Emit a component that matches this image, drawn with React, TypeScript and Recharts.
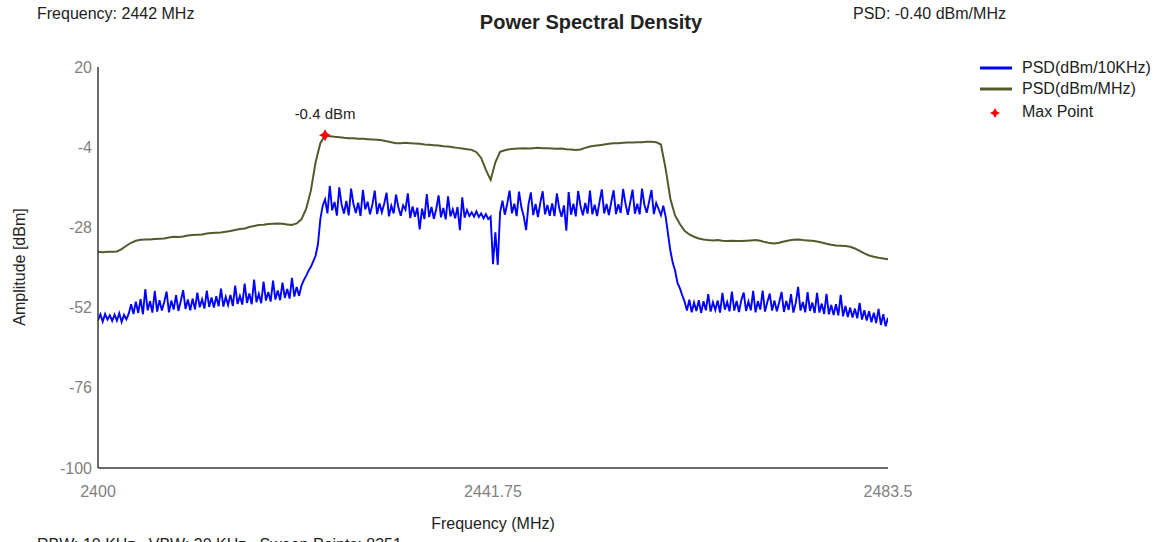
import { ComposedChart, Line, Scatter, XAxis, YAxis } from "recharts";

// sweep grid
const startFreq = 2400;
const blueStep = 0.25;
const greenStep = 0.5;

const xTicks = [2400, 2441.75, 2483.5];
const yTicks = [20, -4, -28, -52, -76, -100];

// PSD(dBm/10KHz), one value per 0.25 MHz, 2400 .. 2483.5
const bluePsd = [
  -55.8, -54.0, -56.2, -53.9, -55.6, -54.3, -56.0, -54.1,
  -55.9, -53.7, -56.3, -54.2, -55.5, -53.8, -51.0, -53.9,
  -50.2, -53.6, -49.5, -54.0, -46.5, -52.8, -50.1, -53.5,
  -47.0, -53.2, -49.8, -52.9, -50.3, -47.2, -53.4, -49.9,
  -52.6, -48.3, -53.0, -50.0, -46.8, -52.4, -49.6, -52.8,
  -49.3, -52.5, -47.5, -51.9, -49.5, -52.3, -46.9, -51.8,
  -49.0, -52.0, -48.6, -51.6, -46.3, -51.7, -48.8, -51.2,
  -48.2, -51.5, -45.4, -50.9, -48.5, -51.1, -44.8, -50.6,
  -47.8, -51.0, -43.6, -50.4, -47.9, -50.7, -44.2, -49.9,
  -47.3, -50.2, -43.9, -49.6, -46.9, -49.8, -44.5, -49.1,
  -46.4, -49.3, -43.1, -48.7, -45.8, -48.5, -45.5, -43.8,
  -42.5, -41.0, -39.8, -38.2, -36.5, -33.0, -25.5, -21.5,
  -19.6, -23.8, -15.6, -22.9, -20.4, -24.5, -16.0, -21.2,
  -23.9, -20.1, -24.4, -16.4, -21.0, -23.7, -20.6, -24.6,
  -16.8, -22.6, -20.3, -24.1, -21.2, -17.0, -24.0, -20.8,
  -23.5, -20.9, -17.6, -24.7, -21.5, -23.8, -18.2, -22.0,
  -24.5, -21.4, -22.7, -17.8, -25.2, -21.7, -24.8, -22.1,
  -28.6, -22.4, -25.5, -18.0, -24.9, -21.9, -25.4, -22.5,
  -18.4, -25.0, -22.2, -25.6, -18.7, -24.7, -22.6, -25.3,
  -21.9, -28.8, -19.0, -25.1, -22.8, -24.6, -23.5, -24.8,
  -23.2, -24.9, -23.8, -25.3, -24.0, -25.5, -24.8, -39.0,
  -29.5, -39.2, -23.5, -20.0, -24.2, -21.0, -17.0, -23.8,
  -20.9, -24.6, -17.3, -22.0, -24.7, -28.8, -21.1, -17.5,
  -24.3, -21.0, -24.9, -20.6, -17.2, -24.1, -21.3, -24.5,
  -20.8, -24.6, -17.8, -22.3, -24.8, -21.4, -29.0, -17.4,
  -24.2, -20.9, -24.7, -17.1, -21.6, -24.4, -20.7, -23.9,
  -17.0, -24.1, -21.2, -24.6, -20.5, -16.6, -23.8, -21.0,
  -24.3, -20.4, -16.9, -24.0, -21.1, -23.7, -16.5, -20.8,
  -24.2, -20.6, -16.7, -23.9, -20.9, -24.1, -16.4, -21.2,
  -23.6, -20.3, -16.8, -24.0, -20.7, -22.5, -24.4, -21.5,
  -24.8, -30.0, -35.0, -38.6, -41.0, -44.6, -46.2, -48.3,
  -50.2, -52.9, -49.6, -53.4, -50.5, -53.0, -49.8, -53.6,
  -50.1, -52.8, -48.0, -53.2, -50.4, -52.7, -49.9, -53.5,
  -47.6, -52.6, -50.3, -53.1, -47.2, -52.9, -50.0, -53.3,
  -49.7, -47.5, -53.0, -50.2, -52.8, -47.0, -53.4, -50.1,
  -52.6, -46.9, -53.2, -50.3, -47.8, -52.9, -49.9, -53.1,
  -50.4, -47.3, -53.3, -50.0, -52.7, -48.0, -53.5, -50.6,
  -45.8, -52.9, -50.3, -53.4, -47.4, -53.0, -50.5, -53.6,
  -47.6, -53.5, -50.8, -53.9, -47.9, -54.0, -51.2, -54.2,
  -51.0, -54.3, -48.2, -54.6, -51.5, -54.8, -52.0, -55.0,
  -52.3, -55.2, -50.6, -55.6, -52.8, -55.9, -53.1, -56.4,
  -53.5, -56.6, -52.4, -57.2, -54.0, -57.6, -55.0,
];

// PSD(dBm/MHz), one value per 0.5 MHz, 2400 .. 2483.5
const greenPsd = [
  -35.3, -35.4, -35.3, -35.3, -35.2, -34.5, -33.5, -32.6, -32.0, -31.7,
  -31.6, -31.6, -31.5, -31.4, -31.3, -31.0, -30.8, -30.9, -30.7, -30.4,
  -30.3, -30.2, -30.1, -29.8, -29.7, -29.6, -29.5, -29.3, -29.1, -28.8,
  -28.5, -28.3, -27.9, -27.6, -27.3, -27.2, -27.0, -26.9, -26.8, -26.9,
  -27.1, -27.3, -26.8, -25.6, -22.5, -17.0, -8.5, -2.8, -0.4, -0.7,
  -0.9, -1.0, -1.2, -1.3, -1.3, -1.5, -1.5, -1.6, -1.7, -1.8,
  -1.9, -2.2, -2.5, -2.8, -2.8, -2.7, -2.8, -2.9, -3.0, -3.2,
  -3.3, -3.4, -3.5, -3.7, -3.8, -4.0, -4.2, -4.4, -4.6, -4.8,
  -5.5, -7.2, -10.8, -13.8, -8.5, -5.4, -4.9, -4.6, -4.5, -4.4,
  -4.3, -4.4, -4.3, -4.2, -4.3, -4.3, -4.4, -4.5, -4.4, -4.6,
  -4.7, -4.8, -4.7, -4.2, -3.8, -3.6, -3.4, -3.2, -3.0, -2.8,
  -2.8, -2.7, -2.6, -2.6, -2.5, -2.5, -2.4, -2.4, -2.5, -3.2,
  -10.5, -19.5, -24.5, -27.0, -29.0, -30.1, -30.8, -31.3, -31.6, -31.8,
  -31.9, -31.8, -32.0, -32.1, -32.0, -32.1, -32.1, -32.0, -31.9, -31.8,
  -32.0, -32.4, -32.7, -32.8, -32.6, -32.2, -31.9, -31.7, -31.6, -31.8,
  -31.9, -32.0, -32.2, -32.5, -32.9, -33.2, -33.4, -33.5, -33.6, -33.8,
  -34.3, -35.0, -35.8, -36.4, -36.8, -37.1, -37.3, -37.5,
];

const maxFreq = 2424;
const maxPsd = -0.4;

const blueData = bluePsd.map((v, i) => ({ f: startFreq + i * blueStep, v }));
const greenData = greenPsd.map((v, i) => ({ f: startFreq + i * greenStep, v }));
const maxData = [{ f: maxFreq, v: maxPsd }];

const FONT = "'Liberation Sans', Arial, sans-serif";
const BLUE = "#0000ff";
const GREEN = "#505a2c";
const RED = "#ff0000";
const AXIS = "#3a3a3a";
const TICK = "#808080";

const starPath = (cx: number, cy: number, r: number) => {
  const s = r * 0.35;
  return `M${cx},${cy - r} L${cx + s},${cy - s} L${cx + r},${cy} L${cx + s},${cy + s} L${cx},${cy + r} L${cx - s},${cy + s} L${cx - r},${cy} L${cx - s},${cy - s} Z`;
};

const MaxMarker = (props: any) => {
  const { cx, cy } = props;
  return (
    <g>
      <path d={starPath(cx, cy, 6)} fill={RED} />
      <text x={cx} y={cy - 16} textAnchor="middle" fontSize={15} fill="#222" fontFamily={FONT}>
        {`${maxPsd} dBm`}
      </text>
    </g>
  );
};

const textStyle: React.CSSProperties = {
  position: "absolute",
  fontFamily: FONT,
  fontSize: 16,
  lineHeight: "18px",
  color: "#222",
  whiteSpace: "pre",
};

export default function App() {
  return (
    <div
      style={{
        position: "absolute",
        left: 0,
        top: 0,
        width: 1169,
        height: 542,
        overflow: "hidden",
        background: "#fff",
        fontFamily: FONT,
      }}
    >
      <ComposedChart
        width={1169}
        height={542}
        margin={{ top: 67, right: 281, bottom: 24, left: 8 }}
        style={{ fontFamily: FONT }}
      >
        <XAxis
          type="number"
          dataKey="f"
          domain={[2400, 2483.5]}
          ticks={xTicks}
          interval={0}
          height={50}
          tickLine={false}
          tickSize={6}
          tickMargin={12}
          axisLine={{ stroke: AXIS, strokeWidth: 1.5 }}
          tick={{ fill: TICK, fontSize: 16 }}
          allowDataOverflow
        />
        <YAxis
          type="number"
          domain={[-100, 20]}
          ticks={yTicks}
          interval={0}
          width={90}
          tickLine={false}
          tickSize={3}
          tickMargin={3}
          axisLine={{ stroke: AXIS, strokeWidth: 1.5 }}
          tick={{ fill: TICK, fontSize: 16 }}
          allowDataOverflow
        />
        <Line
          data={greenData}
          dataKey="v"
          type="linear"
          stroke={GREEN}
          strokeWidth={2}
          dot={false}
          isAnimationActive={false}
        />
        <Line
          data={blueData}
          dataKey="v"
          type="linear"
          stroke={BLUE}
          strokeWidth={1.9}
          dot={false}
          isAnimationActive={false}
        />
        <Scatter data={maxData} dataKey="v" shape={MaxMarker} isAnimationActive={false} />
      </ComposedChart>

      <div style={{ ...textStyle, left: 37, top: 5 }}>Frequency: 2442 MHz</div>
      <div
        style={{
          ...textStyle,
          left: 591,
          top: 11,
          transform: "translateX(-50%)",
          fontSize: 20,
          lineHeight: "22px",
          fontWeight: "bold",
        }}
      >
        Power Spectral Density
      </div>
      <div style={{ ...textStyle, left: 853, top: 5 }}>PSD: -0.40 dBm/MHz</div>

      <div
        style={{
          ...textStyle,
          left: 20,
          top: 267,
          transform: "translate(-50%, -50%) rotate(-90deg)",
        }}
      >
        Amplitude [dBm]
      </div>
      <div style={{ ...textStyle, left: 493, top: 515, transform: "translateX(-50%)" }}>
        Frequency (MHz)
      </div>
      <div style={{ ...textStyle, left: 37, top: 536 }}>
        {"RBW: 10 KHz   VBW: 30 KHz   Sweep Points: 8351"}
      </div>

      {/* legend */}
      <svg style={{ position: "absolute", left: 970, top: 55 }} width={50} height={70}>
        <line x1={10} x2={42} y1={13} y2={13} stroke={BLUE} strokeWidth={3} />
        <line x1={10} x2={42} y1={34} y2={34} stroke={GREEN} strokeWidth={3} />
        <path d={starPath(25, 58, 5)} fill={RED} />
      </svg>
      <div style={{ ...textStyle, left: 1022, top: 59 }}>PSD(dBm/10KHz)</div>
      <div style={{ ...textStyle, left: 1022, top: 80 }}>PSD(dBm/MHz)</div>
      <div style={{ ...textStyle, left: 1022, top: 103 }}>Max Point</div>
    </div>
  );
}
